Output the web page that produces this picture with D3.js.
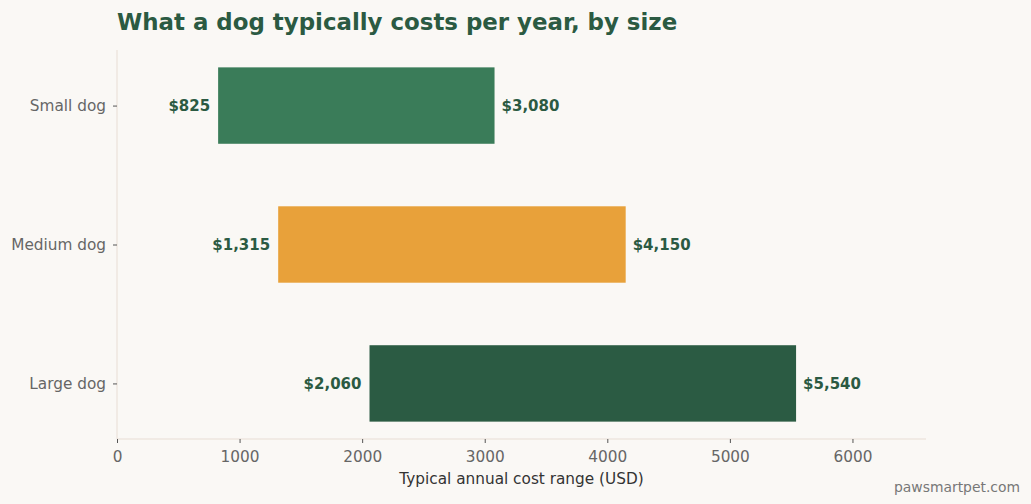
<!DOCTYPE html>
<html><head><meta charset="utf-8">
<script src="https://cdn.jsdelivr.net/npm/d3@7"></script>
<style>
html,body{margin:0;padding:0;background:#faf8f5;}
svg{display:block;font-family:"DejaVu Sans",sans-serif;}
</style></head>
<body><svg id="c" width="1031" height="504"></svg>
<script>
const categories = ["Small dog", "Medium dog", "Large dog"];
const lowValues = [825, 1315, 2060];
const highValues = [3080, 4150, 5540];
const colors = ["#3a7c59", "#e8a13a", "#2b5b43"];
const xTicks = [0, 1000, 2000, 3000, 4000, 5000, 6000];

(function () {
const svg = d3.select("#c");
const W = 1031, H = 504;
svg.append("rect").attr("width", W).attr("height", H).attr("fill", "#faf8f5");

const mLeft = 117, mRight = 926, mTop = 50, mBottom = 439;
const x = d3.scaleLinear().domain([0, 6600]).range([mLeft, mRight]);
const y = d3.scaleLinear().domain([-0.4, 2.4]).range([mTop, mBottom]);
const bh = 0.55;

// bars
categories.forEach((c, i) => {
  svg.append("rect")
    .attr("x", x(lowValues[i]))
    .attr("y", y(i - bh / 2))
    .attr("width", x(highValues[i]) - x(lowValues[i]))
    .attr("height", y(i + bh / 2) - y(i - bh / 2))
    .attr("fill", colors[i]);
  svg.append("text")
    .attr("x", x(lowValues[i]) - 8).attr("y", y(i)).attr("dy", "0.36em")
    .attr("text-anchor", "end").attr("font-weight", "bold").attr("font-size", 15)
    .attr("fill", "#2b5a42").text("$" + d3.format(",")(lowValues[i]));
  svg.append("text")
    .attr("x", x(highValues[i]) + 7).attr("y", y(i)).attr("dy", "0.36em")
    .attr("text-anchor", "start").attr("font-weight", "bold").attr("font-size", 15)
    .attr("fill", "#2b5a42").text("$" + d3.format(",")(highValues[i]));
});

// spines
svg.append("line").attr("x1", mLeft).attr("x2", mLeft).attr("y1", mTop).attr("y2", mBottom)
  .attr("stroke", "#e8ddd4").attr("stroke-width", 1);
svg.append("line").attr("x1", mLeft).attr("x2", mRight).attr("y1", mBottom).attr("y2", mBottom)
  .attr("stroke", "#e8ddd4").attr("stroke-width", 1);

// x axis
const xa = svg.append("g").attr("transform", `translate(0,${mBottom})`)
  .call(d3.axisBottom(x).tickValues(xTicks).tickFormat(d3.format("d")).tickSize(4).tickSizeOuter(0));
xa.select(".domain").remove();
xa.selectAll(".tick line").attr("stroke", "#555");
xa.selectAll(".tick text").attr("fill", "#666").attr("font-size", 15.3)
  .attr("font-family", "DejaVu Sans").attr("dy", "0.95em").attr("y", 8);

// y axis
const ya = svg.append("g").attr("transform", `translate(${mLeft},0)`)
  .call(d3.axisLeft(y).tickValues([0, 1, 2]).tickFormat(i => categories[i]).tickSize(4).tickSizeOuter(0));
ya.select(".domain").remove();
ya.selectAll(".tick line").attr("stroke", "#555");
ya.selectAll(".tick text").attr("fill", "#666").attr("font-size", 15.3)
  .attr("font-family", "DejaVu Sans").attr("x", -11);

// axis label
svg.append("text").attr("x", (mLeft + mRight) / 2).attr("y", 484)
  .attr("text-anchor", "middle").attr("font-size", 15.3).attr("fill", "#333")
  .text("Typical annual cost range (USD)");

// title
svg.append("text").attr("x", 117).attr("y", 30)
  .attr("font-size", 22.9).attr("font-weight", "bold").attr("fill", "#2b5a42")
  .text("What a dog typically costs per year, by size");

// footer
svg.append("text").attr("x", 1020).attr("y", 492)
  .attr("text-anchor", "end").attr("font-size", 13.9).attr("fill", "#777")
  .text("pawsmartpet.com");
})();
</script></body></html>
